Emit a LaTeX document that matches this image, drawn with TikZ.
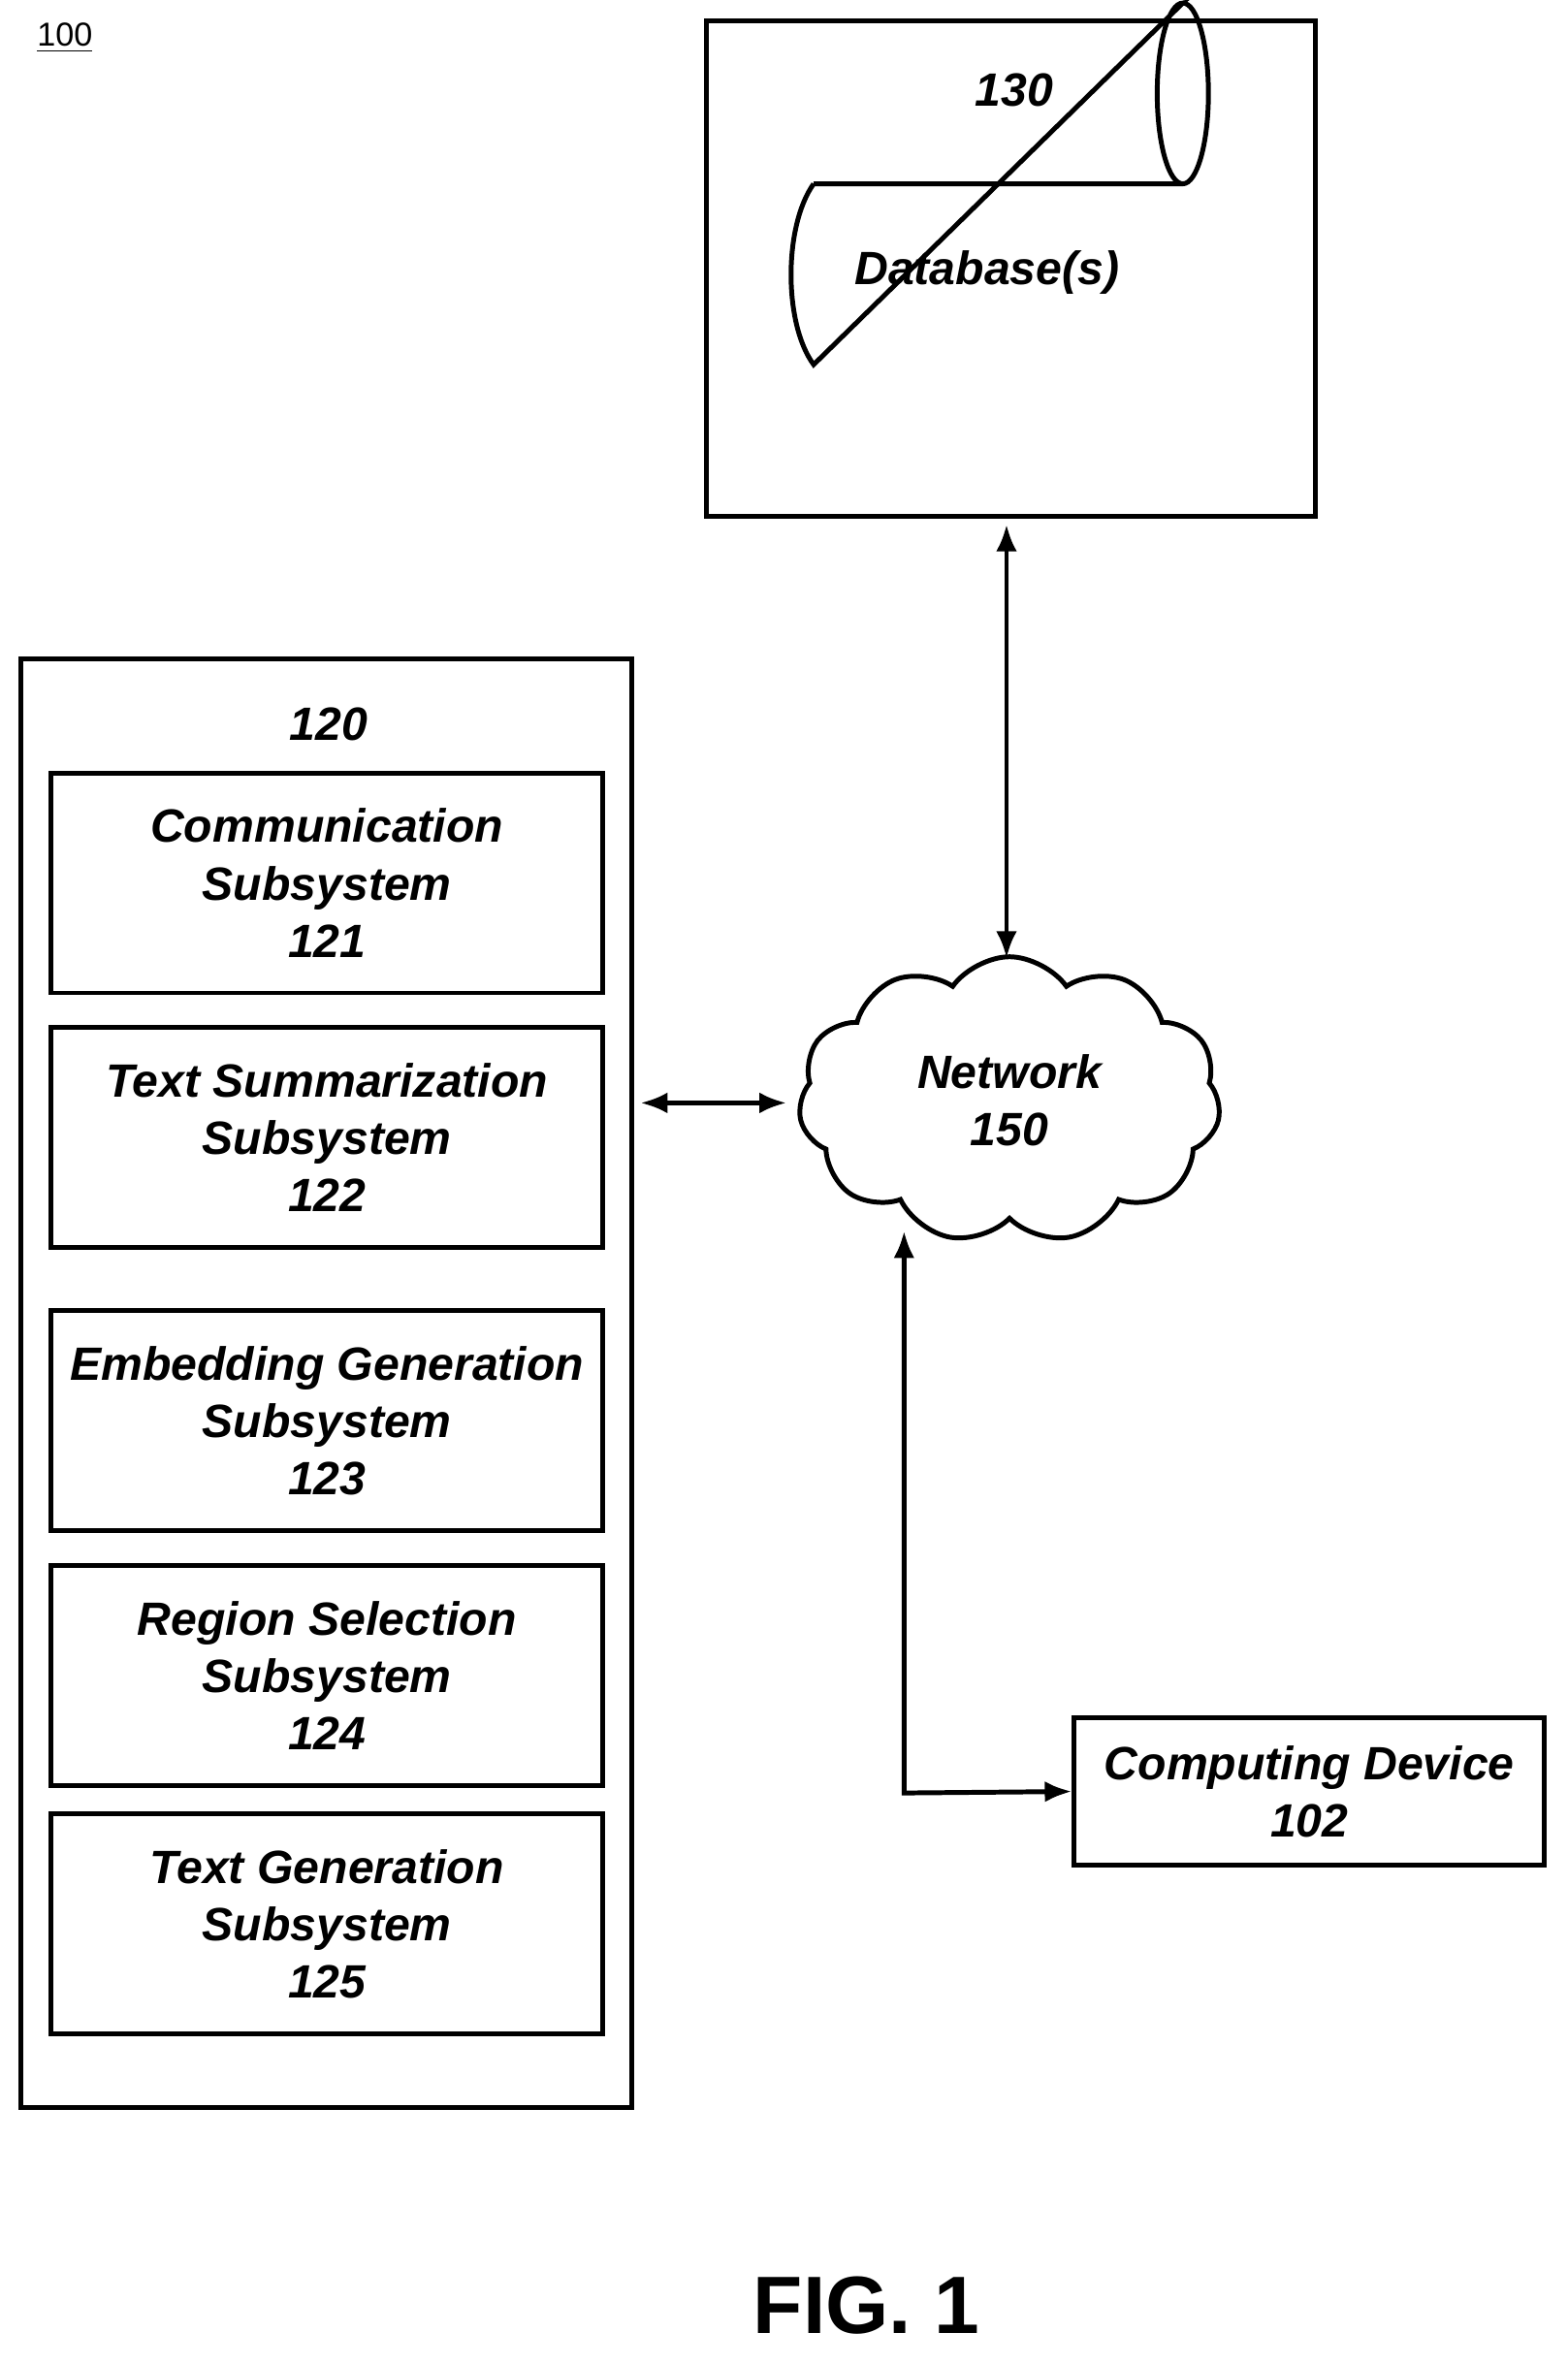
\documentclass[tikz,border=0pt]{standalone}
\usepackage{fontspec}
\setmainfont{Liberation Sans}
\usetikzlibrary{shapes.symbols,arrows.meta}
\begin{document}
\begin{tikzpicture}[x=0.5pt,y=-0.5pt,
 box/.style={draw,line width=1.6pt},
 lbl/.style={font=\fontsize{15.5}{19}\selectfont\bfseries\itshape,align=center},
 arr/.style={line width=1.6pt,{Latex[length=9pt,width=7pt]}-{Latex[length=9pt,width=7pt]}}]
\useasboundingbox (0,0) rectangle (1040,1569);
\node[font=\fontsize{11}{13}\selectfont] (n100) at (43,25) {\underline{100}};
\draw[box] (469,14) rectangle (873,343);
\node[lbl] (l130) at (673,60) {130};
\coordinate (b130) at (668,343);
\draw[line width=1.6pt] (540,122) -- (785,122) arc[start angle=90,end angle=270,x radius=17,y radius=60] -- (540,242) .. controls (520,215) and (520,150) .. (540,122);
\draw[line width=1.6pt] (785,122) arc[start angle=90,end angle=-90,x radius=17,y radius=60];
\node[lbl] (db) at (655,181) {Database(s)};
\draw[box] (14,437) rectangle (419,1399);
\node[lbl] (l120) at (218,481) {120};
\coordinate (r120) at (419,732);
\node[box,lbl,minimum width=183pt,minimum height=73pt,inner sep=0] (s121) at (217,586) {Communication\\Subsystem\\121};
\node[box,lbl,minimum width=183pt,minimum height=73pt,inner sep=0] (s122) at (217,755) {Text Summarization\\Subsystem\\122};
\node[box,lbl,minimum width=183pt,minimum height=73pt,inner sep=0] (s123) at (217,943) {Embedding Generation\\Subsystem\\123};
\node[box,lbl,minimum width=183pt,minimum height=73pt,inner sep=0] (s124) at (217,1112) {Region Selection\\Subsystem\\124};
\node[box,lbl,minimum width=183pt,minimum height=73pt,inner sep=0] (s125) at (217,1277) {Text Generation\\Subsystem\\125};
\node[cloud,cloud puffs=11,cloud puff arc=110,aspect=1.4,draw,line width=1.6pt,lbl,minimum width=140pt,minimum height=95pt] (net) at (670,730) {Network\\150};
\node[box,lbl,minimum width=156pt,minimum height=49pt,inner sep=0] (cd) at (869,1189) {Computing Device\\102};
\draw[arr] ([yshift=-2.5pt]b130) -- (668,636);
\draw[arr] ([xshift=3pt]r120) -- (522,732);
\draw[arr] (600,817) -- (600,1190) -- (cd.west);
\node[font=\fontsize{27}{30}\selectfont\bfseries] (fig) at (575,1530) {FIG. 1};
\end{tikzpicture}
\end{document}
